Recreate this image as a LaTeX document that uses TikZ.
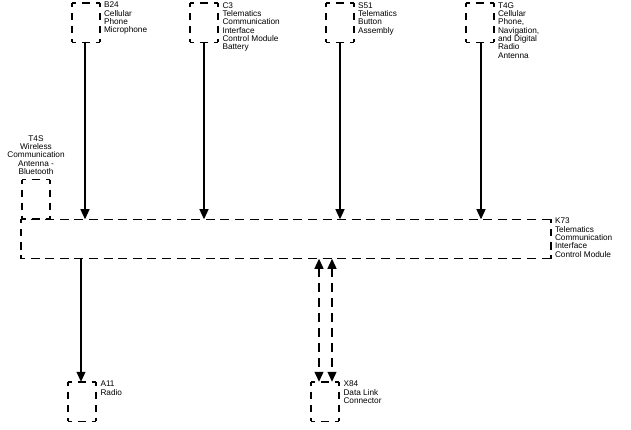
\documentclass[tikz,border=0pt]{standalone}
\usepackage{fontspec}
\setmainfont{Liberation Sans}
\usetikzlibrary{arrows.meta}
\tikzset{
  x=1pt,y=-1pt,
  boxnode/.style={minimum width=#1,minimum height=39.5pt,inner sep=0pt,outer sep=0pt},
  hdash/.style={line width=1.5pt,dash pattern=on 8.4pt off 5.6pt,dash phase=4.2pt},
  vdash/.style={line width=1.5pt,dash pattern=on 7.4pt off 5.8pt,dash phase=3.4pt},
  longdash/.style={line width=1.4pt,dash pattern=on 9pt off 5.6pt,dash phase=5pt},
  wire/.style={line width=1.2pt,-{Triangle[length=10pt,width=9pt]}},
  dashwire/.style={line width=1.3pt,dash pattern=on 9pt off 6pt},
  both/.style={{Triangle[length=10pt,width=9pt]}-{Triangle[length=10pt,width=9pt]}},
  lbl/.style={inner sep=0pt,outer sep=0pt,font=\fontsize{8.25}{8.35}\selectfont,align=left,anchor=north west},
  lblc/.style={inner sep=0pt,outer sep=0pt,font=\fontsize{8.25}{8.35}\selectfont,align=center,anchor=north}
}
\newcommand{\dbox}[1]{%
  \draw[hdash] (#1.north west) -- (#1.north east);
  \draw[hdash] (#1.south west) -- (#1.south east);
  \draw[vdash] (#1.north west) -- (#1.south west);
  \draw[vdash] (#1.north east) -- (#1.south east);
}
\begin{document}
\begin{tikzpicture}
\useasboundingbox (0,0) rectangle (631,430);
% boxes
\node[boxnode=28pt] (b24) at (86,22.75) {};
\node[boxnode=28pt] (c3) at (204,22.75) {};
\node[boxnode=28pt] (s51) at (340,22.75) {};
\node[boxnode=28pt] (t4g) at (480,22.75) {};
\node[boxnode=28pt] (t4s) at (36,199.5) {};
\node[boxnode=530pt] (k73) at (286,239) {};
\node[boxnode=28pt] (a11) at (82,401.5) {};
\node[boxnode=28pt] (x84) at (325,401.5) {};
\dbox{b24}\dbox{c3}\dbox{s51}\dbox{t4g}\dbox{t4s}\dbox{a11}\dbox{x84}
\draw[longdash] (k73.north west) -- (k73.north east);
\draw[longdash] (k73.south west) -- (k73.south east);
\draw[vdash] (k73.north west) -- (k73.south west);
\draw[vdash] (k73.north east) -- (k73.south east);
% connectors
\draw[wire] ([xshift=-1pt]b24.south) -- ([xshift=-1pt]b24.south |- k73.north);
\draw[wire] (c3.south) -- (c3.south |- k73.north);
\draw[wire] (s51.south) -- (s51.south |- k73.north);
\draw[wire] ([xshift=1pt]t4g.south) -- ([xshift=1pt]t4g.south |- k73.north);
\draw[wire] ([xshift=-1pt]a11.north |- k73.south) -- ([xshift=-1pt]a11.north);
\draw[dashwire,both] ([xshift=-6pt]x84.north |- k73.south) -- ([xshift=-6pt]x84.north);
\draw[dashwire,both] ([xshift=7pt]x84.north |- k73.south) -- ([xshift=7pt]x84.north);
% labels
\node[lbl] (lb24) at (104,2) {B24\\Cellular\\Phone\\Microphone};
\node[lbl] (lc3) at (222.5,2.3) {C3\\Telematics\\Communication\\Interface\\Control Module\\Battery};
\node[lbl] (ls51) at (358,2.3) {S51\\Telematics\\Button\\Assembly};
\node[lbl] (lt4g) at (498,2.3) {T4G\\Cellular\\Phone,\\Navigation,\\and Digital\\Radio\\Antenna};
\node[lblc] (lt4s) at (36,135.5) {T4S\\Wireless\\Communication\\Antenna -\\Bluetooth};
\node[lbl] (lk73) at (555,218) {K73\\Telematics\\Communication\\Interface\\Control Module};
\node[lbl] (la11) at (100.5,381) {A11\\Radio};
\node[lbl] (lx84) at (343.5,381) {X84\\Data Link\\Connector};
\end{tikzpicture}
\end{document}
